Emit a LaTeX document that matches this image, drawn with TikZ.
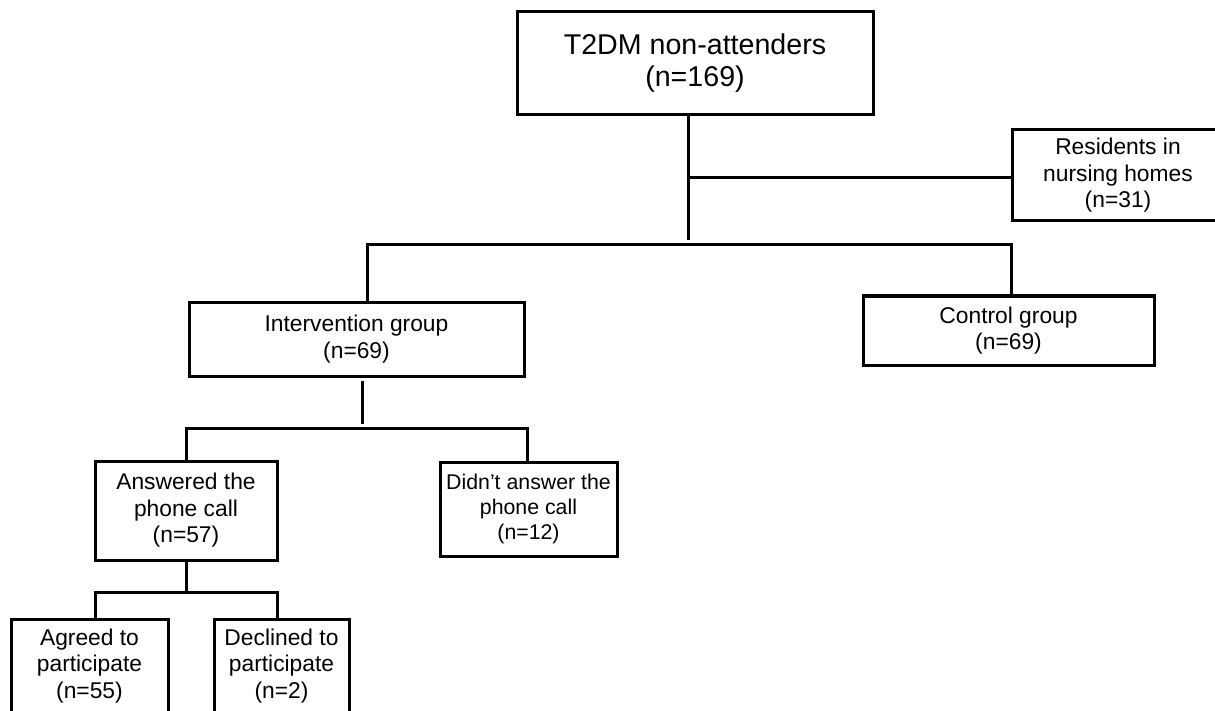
\documentclass[tikz,border=0pt]{standalone}
\usepackage{fontspec}
\setmainfont{Liberation Sans}
\usepackage{tikz}
\usetikzlibrary{positioning}
\tikzset{
  flowbox/.style={draw=black,line width=3pt,rectangle,align=center,inner sep=0pt,
    font=\fontsize{22.8pt}{26.5pt}\selectfont},
  headbox/.style={flowbox,font=\fontsize{28.6pt}{32pt}\selectfont},
  branchline/.style={draw=black,line width=3pt}
}

\begin{document}
\begin{tikzpicture}[x=1pt,y=-1pt]
  \useasboundingbox (0,0) rectangle (1215,711);
  \clip (0,0) rectangle (1215,711);
  \node[headbox,minimum width=356pt,minimum height=103pt] (top) at (695,63.5) {T2DM non-attenders\\(n=169)};
  \node[flowbox,minimum width=212pt,minimum height=91pt] (resid) at (1118,175.5) {Residents in\\nursing homes\\(n=31)};
  \node[flowbox,minimum width=335pt,minimum height=74pt] (interv) at (356.5,339) {Intervention group\\(n=69)};
  \node[flowbox,minimum width=291pt,minimum height=69pt] (control) at (1008.5,330.5) {Control group\\(n=69)};
  \node[flowbox,minimum width=182pt,minimum height=99pt] (answ) at (186,510.5) {Answered the\\phone call\\(n=57)};
  \node[flowbox,minimum width=177pt,minimum height=94pt,font=\fontsize{21.3pt}{25pt}\selectfont] (didnt) at (528.5,509) {Didn't answer the\\phone call\\(n=12)};
  \node[flowbox,minimum width=157pt,minimum height=94pt] (agree) at (89.5,666) {Agreed to\\participate\\(n=55)};
  \node[flowbox,minimum width=135pt,minimum height=94pt] (decline) at (281.5,666) {Declined to\\participate\\(n=2)};
  % branch points
  \coordinate (trunk) at (688,240);
  \coordinate (resjoin) at (688,178);
  \coordinate (mainL) at (367,245);
  \coordinate (mainR) at (1011,245);
  \coordinate (ivtop) at (362,381);
  \coordinate (ivbot) at (362,424);
  \coordinate (ansL) at (186,428);
  \coordinate (didR) at (527,428);
  \coordinate (agrL) at (95,592);
  \coordinate (decR) at (277,592);
  \draw[branchline] (top.south -| trunk) -- (trunk);
  \draw[branchline] (resjoin) -- (resid.west |- resjoin);
  \draw[branchline] (interv.north -| mainL) -- (mainL) -- (mainR) -- (control.north -| mainR);
  \draw[branchline] (ivtop) -- (ivbot);
  \draw[branchline] (answ.north -| ansL) -- (ansL) -- (didR) -- (didnt.north -| didR);
  \draw[branchline] (answ.south) -- (answ.south |- agrL);
  \draw[branchline] (agree.north -| agrL) -- (agrL) -- (decR) -- (decline.north -| decR);
\end{tikzpicture}
\end{document}
